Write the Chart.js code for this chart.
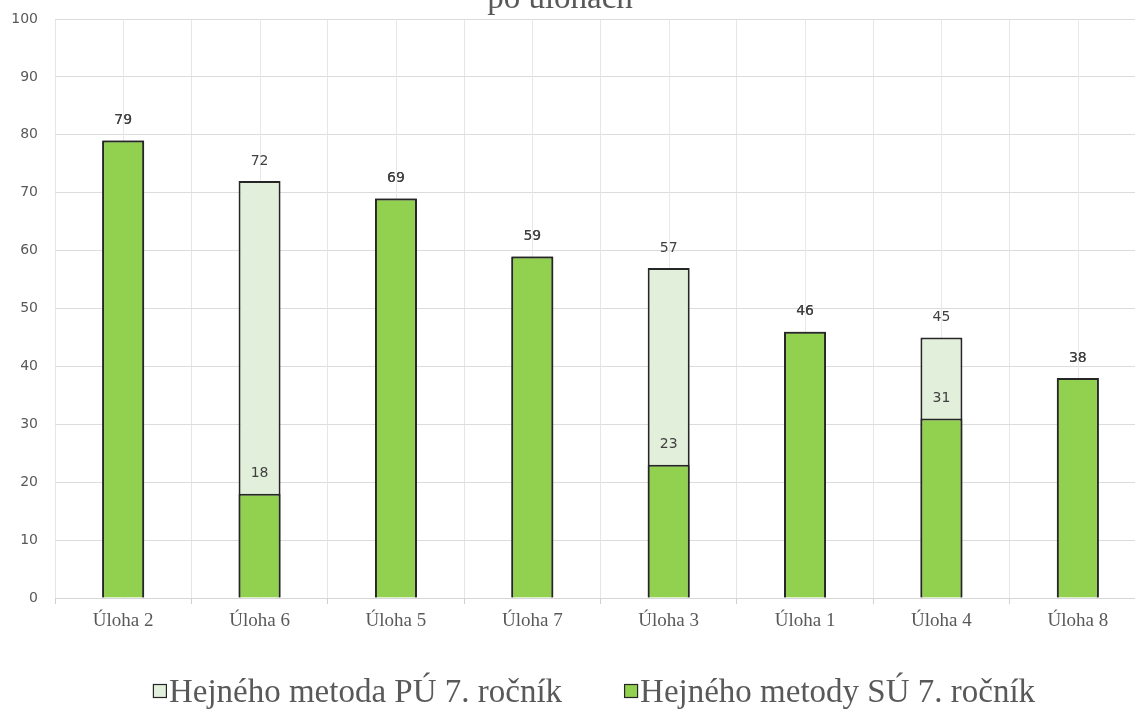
<!DOCTYPE html>
<html>
<head>
<meta charset="utf-8">
<script src="https://cdn.jsdelivr.net/npm/chart.js@4/dist/chart.umd.min.js"></script>
<style>
  html, body { margin: 0; padding: 0; background: #ffffff; overflow: hidden; }
  #wrap { width: 1150px; height: 710px; }
</style>
</head>
<body>
<div id="wrap"><canvas id="c" width="1150" height="710"></canvas></div>
<script>
// Úlohy seřazené podle úspěšnosti
const categories = ['Úloha 2', 'Úloha 6', 'Úloha 5', 'Úloha 7', 'Úloha 3', 'Úloha 1', 'Úloha 4', 'Úloha 8'];
const seriesPU = [79, 72, 69, 59, 57, 46, 45, 38];   // Hejného metoda PÚ 7. ročník
const seriesSU = [79, 18, 69, 59, 23, 46, 31, 38];   // Hejného metody SÚ 7. ročník
const seriesNames = ['Hejného metoda PÚ 7. ročník', 'Hejného metody SÚ 7. ročník'];
const yTicks = [0, 10, 20, 30, 40, 50, 60, 70, 80, 90, 100];
const titleText = 'po úlohách';

const GRAY_TEXT = '#595959';
const SERIF = '"Liberation Serif", "Times New Roman", serif';
const SANS = '"DejaVu Sans", Verdana, sans-serif';

// vertical guide lines through the middle of each category
const centerLines = {
  id: 'centerLines',
  beforeDatasetsDraw(chart) {
    const { ctx, chartArea, scales } = chart;
    ctx.save();
    ctx.strokeStyle = '#e8e8e8';
    ctx.lineWidth = 1;
    categories.forEach((_, i) => {
      const x = Math.round(scales.x.getPixelForValue(i)) + 0.5;
      ctx.beginPath();
      ctx.moveTo(x, chartArea.top);
      ctx.lineTo(x, chartArea.bottom);
      ctx.stroke();
    });
    ctx.restore();
  }
};

// value labels above each bar
const valueLabels = {
  id: 'valueLabels',
  afterDatasetsDraw(chart) {
    const { ctx } = chart;
    ctx.save();
    ctx.font = '14px ' + SANS;
    ctx.fillStyle = '#404040';
    ctx.textAlign = 'center';
    ctx.textBaseline = 'middle';
    chart.data.datasets.forEach((ds, di) => {
      const meta = chart.getDatasetMeta(di);
      meta.data.forEach((bar, i) => {
        if (ds.data[i] == null) return;
        ctx.fillText(String(ds.data[i]), bar.x, bar.y - 20);
      });
    });
    ctx.restore();
  }
};

// title line and legend
const decorations = {
  id: 'decorations',
  afterDraw(chart) {
    const { ctx } = chart;
    ctx.save();
    ctx.fillStyle = GRAY_TEXT;
    ctx.font = '33px ' + SERIF;
    ctx.textAlign = 'center';
    ctx.textBaseline = 'alphabetic';
    ctx.fillText(titleText, 560, 8);

    // legend
    ctx.font = '33px ' + SERIF;
    ctx.textAlign = 'left';
    const box = 13, gap = 3, spacing = 62, centerX = 594;
    const widths = chart.data.datasets.map(ds => box + gap + ctx.measureText(ds.label).width);
    const total = widths.reduce((a, b) => a + b, 0) + spacing * (widths.length - 1);
    let x = centerX - total / 2;
    chart.data.datasets.forEach((ds, i) => {
      ctx.fillStyle = ds.backgroundColor;
      ctx.fillRect(x + 0.5, 684.5, box, box);
      ctx.strokeStyle = '#262626';
      ctx.lineWidth = 1.2;
      ctx.strokeRect(x + 0.5, 684.5, box, box);
      ctx.fillStyle = GRAY_TEXT;
      ctx.fillText(ds.label, x + box + gap, 702);
      x += widths[i] + spacing;
    });
    ctx.restore();
  }
};

new Chart(document.getElementById('c'), {
  type: 'bar',
  data: {
    labels: categories,
    datasets: [
      {
        label: seriesNames[0],
        data: seriesPU,
        backgroundColor: '#e2efda',
        borderColor: '#262626',
        borderWidth: 2,
        grouped: false,
        order: 1,
        barPercentage: 0.308,
        categoryPercentage: 1
      },
      {
        label: seriesNames[1],
        data: seriesSU,
        backgroundColor: '#92d050',
        borderColor: '#262626',
        borderWidth: 2,
        grouped: false,
        order: 0,
        barPercentage: 0.308,
        categoryPercentage: 1
      }
    ]
  },
  options: {
    responsive: false,
    animation: false,
    devicePixelRatio: 1,
    layout: { padding: { top: 19, right: 4, bottom: 72, left: 0 } },
    plugins: {
      legend: { display: false },
      title: { display: false },
      tooltip: { enabled: false }
    },
    scales: {
      x: {
        grid: {
          color: '#e6e6e6',
          offset: true,
          drawTicks: true,
          tickLength: 6,
          tickColor: '#d0d0d0'
        },
        border: { display: true, color: '#d6d6d6', width: 1 },
        ticks: {
          color: GRAY_TEXT,
          font: { family: SERIF, size: 19 },
          padding: 6,
          maxRotation: 0,
          autoSkip: false
        },
        afterFit(scale) { scale.height = 40; }
      },
      y: {
        min: 0,
        max: 100,
        afterBuildTicks(scale) { scale.ticks = yTicks.map(v => ({ value: v })); },
        grid: { color: '#dcdcdc', drawTicks: true, tickLength: 17, tickColor: 'rgba(0,0,0,0)' },
        border: { display: false },
        ticks: {
          color: GRAY_TEXT,
          font: { family: SANS, size: 14 },
          padding: 0
        },
        afterFit(scale) { scale.width = 55; }
      }
    }
  },
  plugins: [centerLines, valueLabels, decorations]
});
</script>
</body>
</html>
